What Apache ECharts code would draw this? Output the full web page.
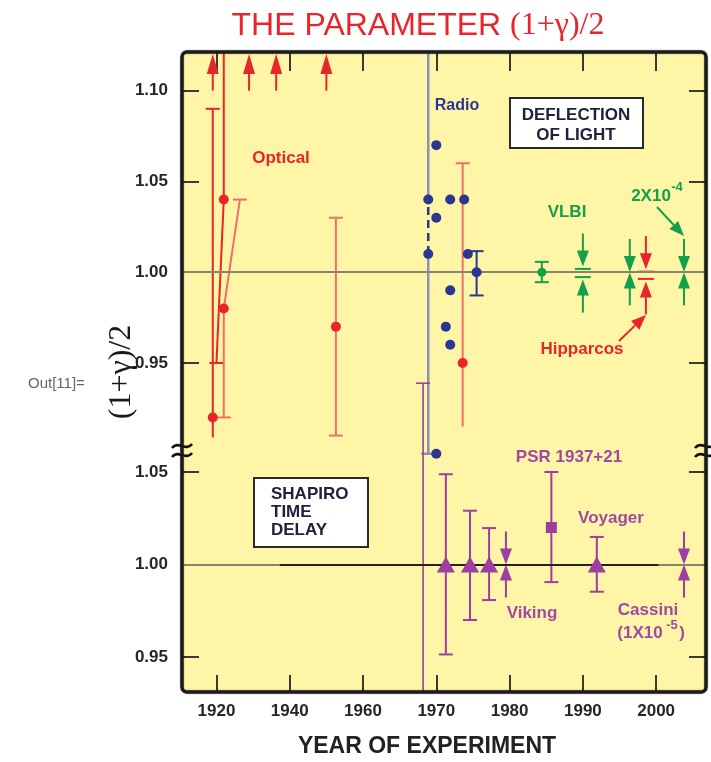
<!DOCTYPE html>
<html>
<head>
<meta charset="utf-8">
<script src="https://cdn.jsdelivr.net/npm/echarts@6/dist/echarts.min.js"></script>
<style>
  html, body { margin: 0; padding: 0; background: #ffffff; }
  #chart { width: 711px; height: 762px; }
</style>
</head>
<body>
<div id="chart"></div>
<script>
// ---------------------------------------------------------------
// Tests of the PPN parameter (1+gamma)/2 : deflection of light and
// Shapiro time delay, by year of experiment.
// ---------------------------------------------------------------

// x axis: years before 1960 are drawn at half scale
const tickYears = [1920, 1940, 1960, 1970, 1980, 1990, 2000];
const topTicks = [0.95, 1.00, 1.05, 1.10];
const bottomTicks = [0.95, 1.00, 1.05];

// Optical deflection (solar eclipses)
const opticalYear  = [1919, 1922, 1922, 1952.6, 1973.6];
const opticalValue = [0.92, 1.04, 0.98, 0.97, 0.95];
const opticalLow   = [0.909, 0.95, 0.92, 0.91, 0.915];
const opticalHigh  = [1.09, 1.20, 1.04, 1.03, 1.06];
// crowded bars are drawn slanting: year at which each end is drawn
const opticalLowYear  = [1919, 1920, 1922, 1952.6, 1973.6];
const opticalHighYear = [1919, 1922, 1926.4, 1952.6, 1973.6];
const opticalLowCap   = [0, 1, 1, 1, 0];
const opticalHighCap  = [1, 0, 1, 1, 1];
const opticalBright   = [1, 1, 0, 0, 0];
// results lying above the top of the scale
const opticalOffScale = [1919, 1928.9, 1936.3, 1950];

// Radio interferometry
const radioYear  = [1968.9, 1968.9, 1970, 1970, 1971.9, 1973.8, 1974.3, 1975.5, 1971.9, 1971.3, 1971.9, 1970];
const radioValue = [1.04, 1.01, 1.07, 1.03, 1.04, 1.04, 1.01, 1.00, 0.99, 0.97, 0.96, 0.90];
const radioBarYear = [1975.5];
const radioBarLow  = [0.9872];
const radioBarHigh = [1.0116];
// the early radio result: wide bar drawn beside the points
const radioWideYear = 1968.9;
const radioWideLow = 0.90, radioWideHigh = 1.20;
const radioDashLow = 1.01, radioDashHigh = 1.04;

// VLBI
const vlbiYear = [1984.4], vlbiValue = [1.00], vlbiLow = [0.9945], vlbiHigh = [1.0057];
const vlbiArrowYear = [1990, 1996.4, 2003.8];
const vlbiArrowLow  = [0.9973, 0.9999, 0.9999];
const vlbiArrowHigh = [1.0018, 1.0001, 1.0001];
const vlbiArrowCap  = [1, 0, 0];

// Hipparcos
const hipYear = [1998.6], hipLow = [0.9963], hipHigh = [1.0003], hipCap = [1];

// Shapiro time delay
const delayYear  = [1971.3, 1974.6, 1977.2, 1991.9];
const delayValue = [1.00, 1.00, 1.00, 1.00];
const delayLow   = [0.9514, 0.970, 0.9808, 0.9853];
const delayHigh  = [1.0488, 1.0291, 1.0197, 1.0149];
const psrYear = [1985.7], psrValue = [1.02], psrLow = [0.9905], psrHigh = [1.05];
const radarYear = [1968.2], radarValue = [1.00], radarLow = [0.90], radarHigh = [1.098];
const delayArrowYear = [1979.5, 2003.8];   // Viking, Cassini
const delayArrowLow  = [1.0, 1.0];
const delayArrowHigh = [1.0, 1.0];

// ---------------------------------------------------------------
const toAxis = y => (y < 1960 ? 1960 - (1960 - y) / 2 : y);
const fromAxis = s => (s < 1960 ? 1960 - (1960 - s) * 2 : s);

const FRAME = { left: 182, top: 52, right: 706, bottom: 692, split: 455 };
const SANS = '"Liberation Sans", Arial, sans-serif';
const SERIF = '"Liberation Serif", "Times New Roman", serif';
const C = {
  bg: '#fff5a6', red: '#e8252b', salmon: '#f07068', blue: '#2b3592', radioLine: '#8b91b6',
  green: '#14a04a', purple: '#9c3fa1', purpleText: '#a04aa6', ink: '#262626', navy: '#20223c',
  ruleTop: '#86866f'
};

const clampY = y => Math.max(FRAME.top + 1, Math.min(FRAME.bottom - 1, y));

// error bar: [x, value, low, high, xLowEnd, xHighEnd, capLow, capHigh]
function barRenderer(color, width) {
  return function (params, api) {
    const pc = api.coord([api.value(0), api.value(1)]);
    const pl = api.coord([api.value(4), api.value(2)]);
    const ph = api.coord([api.value(5), api.value(3)]);
    pl[1] = clampY(pl[1]); ph[1] = clampY(ph[1]);
    const st = { stroke: color, lineWidth: width };
    const kids = [
      { type: 'line', shape: { x1: pl[0], y1: pl[1], x2: pc[0], y2: pc[1] }, style: st },
      { type: 'line', shape: { x1: pc[0], y1: pc[1], x2: ph[0], y2: ph[1] }, style: st }
    ];
    if (api.value(6)) kids.push({ type: 'line', shape: { x1: pl[0] - 7, y1: pl[1], x2: pl[0] + 7, y2: pl[1] }, style: st });
    if (api.value(7)) kids.push({ type: 'line', shape: { x1: ph[0] - 7, y1: ph[1], x2: ph[0] + 7, y2: ph[1] }, style: st });
    return { type: 'group', children: kids };
  };
}

// pair of arrows closing on a narrow bar: [x, low, high, cap]
function arrowPairRenderer(color) {
  return function (params, api) {
    const x = api.coord([api.value(0), 1])[0];
    const yh = api.coord([api.value(0), api.value(2)])[1];
    const yl = api.coord([api.value(0), api.value(1)])[1];
    const cap = api.value(3);
    const gap = cap ? 2.5 : 0;
    const L = 33, HL = 16, HW = 6;
    const tDown = yh - gap, tUp = yl + gap;
    const st = { stroke: color, lineWidth: 2 };
    const kids = [
      { type: 'line', shape: { x1: x, y1: tDown - L, x2: x, y2: tDown - HL + 2 }, style: st },
      { type: 'polygon', shape: { points: [[x - HW, tDown - HL], [x + HW, tDown - HL], [x, tDown]] }, style: { fill: color } },
      { type: 'line', shape: { x1: x, y1: tUp + L, x2: x, y2: tUp + HL - 2 }, style: st },
      { type: 'polygon', shape: { points: [[x - HW, tUp + HL], [x + HW, tUp + HL], [x, tUp]] }, style: { fill: color } }
    ];
    if (cap) {
      kids.push({ type: 'line', shape: { x1: x - 8, y1: yh, x2: x + 8, y2: yh }, style: st });
      kids.push({ type: 'line', shape: { x1: x - 8, y1: yl, x2: x + 8, y2: yl }, style: st });
    }
    return { type: 'group', children: kids };
  };
}

// arrow pointing off the top of the scale: [x, base]
function offScaleRenderer(color) {
  return function (params, api) {
    const p = api.coord([api.value(0), api.value(1)]);
    const tip = FRAME.top + 2;
    return {
      type: 'group', children: [
        { type: 'line', shape: { x1: p[0], y1: p[1], x2: p[0], y2: tip + 18 }, style: { stroke: color, lineWidth: 2 } },
        { type: 'polygon', shape: { points: [[p[0] - 6, tip + 20], [p[0] + 6, tip + 20], [p[0], tip]] }, style: { fill: color } }
      ]
    };
  };
}

function bars(name, grid, rows, color, width, z) {
  return {
    name, type: 'custom', xAxisIndex: grid, yAxisIndex: grid * 2, clip: false, z: z || 3,
    renderItem: barRenderer(color, width || 2), data: rows, silent: true
  };
}
function arrows(name, grid, rows, color) {
  return {
    name, type: 'custom', xAxisIndex: grid, yAxisIndex: grid * 2, clip: false, z: 4,
    renderItem: arrowPairRenderer(color), data: rows, silent: true
  };
}
function points(name, grid, xs, ys, color, symbol, size) {
  return {
    name, type: 'scatter', xAxisIndex: grid, yAxisIndex: grid * 2, z: 5, silent: true,
    symbol: symbol || 'circle', symbolSize: size || 10,
    itemStyle: { color, opacity: 1 },
    data: xs.map((x, i) => [toAxis(x), ys[i]])
  };
}
const vbar = (x, v, lo, hi, capLo, capHi) => [toAxis(x), v, lo, hi, toAxis(x), toAxis(x), capLo, capHi];

// ---------------------------------------------------------------
const opticalRows = opticalYear.map((y, i) => [toAxis(y), opticalValue[i], opticalLow[i], opticalHigh[i],
  toAxis(opticalLowYear[i]), toAxis(opticalHighYear[i]), opticalLowCap[i], opticalHighCap[i]]);

const series = [
  // reference lines at (1+gamma)/2 = 1
  {
    type: 'line', xAxisIndex: 0, yAxisIndex: 0, data: [], silent: true, z: 2,
    markLine: { symbol: 'none', silent: true, label: { show: false },
      lineStyle: { color: C.ruleTop, width: 2, type: 'solid' }, data: [{ yAxis: 1 }] }
  },
  {
    type: 'line', xAxisIndex: 1, yAxisIndex: 2, data: [], silent: true, z: 2,
    markLine: { symbol: 'none', silent: true, label: { show: false },
      lineStyle: { color: '#222', width: 2, type: 'solid' },
      data: [
        { yAxis: 1, lineStyle: { color: C.ruleTop } },
        [{ coord: [toAxis(1937.3), 1] }, { coord: [2000.3, 1] }]
      ] }
  },

  // optical
  bars('optical-bright', 0, opticalRows.filter((r, i) => opticalBright[i]), C.red, 2),
  bars('optical-light', 0, opticalRows.filter((r, i) => !opticalBright[i]), C.salmon, 2),
  {
    type: 'custom', xAxisIndex: 0, yAxisIndex: 0, clip: false, z: 4, silent: true,
    renderItem: offScaleRenderer(C.red), data: opticalOffScale.map(y => [toAxis(y), 1.10])
  },
  points('optical', 0, opticalYear, opticalValue, C.red, 'circle', 10),

  // radio
  bars('radio-wide', 0, [
    vbar(radioWideYear, radioDashLow, radioWideLow, radioDashLow, 1, 0),
    vbar(radioWideYear, radioDashHigh, radioDashHigh, radioWideHigh, 0, 0)
  ], C.radioLine, 2.5, 2),
  {
    type: 'line', xAxisIndex: 0, yAxisIndex: 0, silent: true, z: 3, symbol: 'none',
    lineStyle: { color: C.blue, width: 2.5, type: [8, 5] },
    data: [[toAxis(radioWideYear), radioDashLow], [toAxis(radioWideYear), radioDashHigh]]
  },
  bars('radio-bar', 0, radioBarYear.map((y, i) => vbar(y, (radioBarLow[i] + radioBarHigh[i]) / 2, radioBarLow[i], radioBarHigh[i], 1, 1)), C.blue, 2),
  points('radio', 0, radioYear, radioValue, C.blue, 'circle', 10),

  // VLBI and Hipparcos
  bars('vlbi-bar', 0, vlbiYear.map((y, i) => vbar(y, vlbiValue[i], vlbiLow[i], vlbiHigh[i], 1, 1)), C.green, 2),
  points('vlbi', 0, vlbiYear, vlbiValue, C.green, 'circle', 9),
  arrows('vlbi-arrows', 0, vlbiArrowYear.map((y, i) => [toAxis(y), vlbiArrowLow[i], vlbiArrowHigh[i], vlbiArrowCap[i]]), C.green),
  arrows('hipparcos', 0, hipYear.map((y, i) => [toAxis(y), hipLow[i], hipHigh[i], hipCap[i]]), C.red),

  // Shapiro delay
  bars('radar', 1, radarYear.map((y, i) => vbar(y, radarValue[i], radarLow[i], radarHigh[i], 0, 1)), C.purple, 1.6),
  bars('delay-bars', 1, delayYear.map((y, i) => vbar(y, delayValue[i], delayLow[i], delayHigh[i], 1, 1)), C.purple, 2),
  bars('psr-bar', 1, psrYear.map((y, i) => vbar(y, psrValue[i], psrLow[i], psrHigh[i], 1, 1)), C.purple, 2),
  points('delay', 1, delayYear, delayValue, C.purple, 'triangle', [18, 16]),
  points('psr', 1, psrYear, psrValue, C.purple, 'rect', 11),
  arrows('delay-arrows', 1, delayArrowYear.map((y, i) => [toAxis(y), delayArrowLow[i], delayArrowHigh[i], 0]), C.purple)
];

// ---------------------------------------------------------------
const xCommon = {
  type: 'value', min: 1935.3, max: 2006.8,
  axisLine: { show: false }, splitLine: { show: false }
};
const yCommon = { type: 'value', axisLine: { show: false }, splitLine: { show: false } };
const tickStyle = { color: '#3a3a34', width: 2 };
const labelStyle = { color: C.ink, fontFamily: SANS, fontWeight: 'bold', fontSize: 17 };

function text(t, x, y, color, size, extra) {
  return Object.assign({
    type: 'text', z: 50, silent: true,
    style: { text: t, x, y, fill: color, font: 'bold ' + size + 'px ' + SANS, align: 'center', verticalAlign: 'middle' }
  }, extra || {});
}
function pointer(x1, y1, x2, y2, color) {
  const a = Math.atan2(y2 - y1, x2 - x1), hl = 15, hw = 6;
  const bx = x2 - hl * Math.cos(a), by = y2 - hl * Math.sin(a);
  const nx = -Math.sin(a) * hw, ny = Math.cos(a) * hw;
  return {
    type: 'group', z: 50, silent: true, children: [
      { type: 'line', shape: { x1, y1, x2: bx, y2: by }, style: { stroke: color, lineWidth: 2 } },
      { type: 'polygon', shape: { points: [[x2, y2], [bx + nx, by + ny], [bx - nx, by - ny]] }, style: { fill: color } }
    ]
  };
}
function breakMark(xc, yc, side) {
  const cover = side === 'left'
    ? [{ x: xc - 12, w: 12, fill: '#ffffff' }, { x: xc, w: 10, fill: C.bg }]
    : [{ x: xc - 12, w: 12, fill: C.bg }, { x: xc, w: 10, fill: '#ffffff' }];
  const kids = cover.map(c => ({ type: 'rect', shape: { x: c.x, y: yc - 11, width: c.w, height: 22 }, style: { fill: c.fill } }));
  [yc - 5, yc + 4].forEach(y => kids.push({
    type: 'bezierCurve',
    shape: { x1: xc - 10, y1: y + 2, cpx1: xc - 4, cpy1: y - 6, cpx2: xc + 4, cpy2: y + 6, x2: xc + 10, y2: y - 2 },
    style: { stroke: '#111', lineWidth: 2.6, fill: null }
  }));
  return { type: 'group', z: 120, silent: true, children: kids };
}

const graphic = [
  // frame
  { type: 'rect', z: 100, silent: true,
    shape: { x: FRAME.left, y: FRAME.top, width: FRAME.right - FRAME.left, height: FRAME.bottom - FRAME.top, r: 5 },
    style: { fill: null, stroke: '#1a1a1a', lineWidth: 3.5, shadowBlur: 2, shadowColor: 'rgba(0,0,0,0.35)' } },
  breakMark(FRAME.left, 451, 'left'),
  breakMark(FRAME.right - 1, 451, 'right'),

  // title
  { type: 'text', z: 50, silent: true,
    style: { text: '{a|THE PARAMETER }{b|(1+γ)/2}', x: 418, y: 26, align: 'center', verticalAlign: 'middle',
      rich: { a: { font: '32px ' + SANS, fill: C.red }, b: { font: '32px ' + SERIF, fill: C.red } } } },
  // axis names
  { type: 'text', z: 50, silent: true, rotation: Math.PI / 2, x: 122, y: 372,
    style: { text: '(1+γ)/2', x: 0, y: 0, align: 'center', verticalAlign: 'middle', font: '32px ' + SERIF, fill: '#1a1a1a' } },
  text('YEAR OF EXPERIMENT', 427, 747, '#222', 23),
  { type: 'text', z: 50, silent: true,
    style: { text: 'Out[11]=', x: 28, y: 384, align: 'left', verticalAlign: 'middle', font: '15px ' + SANS, fill: '#666' } },

  // series labels
  text('Optical', 281, 158, C.red, 17),
  text('Radio', 457, 106, C.blue, 16),
  text('VLBI', 567, 212, C.green, 17),
  text('2X10', 651, 196, C.green, 17),
  text('-4', 677, 187, C.green, 13),
  pointer(657, 207, 684, 236, C.green),
  text('Hipparcos', 582, 349, C.red, 17),
  pointer(619, 341, 646, 315, C.red),
  text('PSR 1937+21', 569, 457, C.purpleText, 17),
  text('Voyager', 611, 518, C.purpleText, 17),
  text('Viking', 532, 613, C.purpleText, 17),
  text('Cassini', 648, 610, C.purpleText, 17),
  text('(1X10', 640, 633, C.purpleText, 17),
  text('-5', 672, 625, C.purpleText, 13),
  text(')', 682, 633, C.purpleText, 17),

  // boxes
  { type: 'rect', z: 40, silent: true, shape: { x: 510, y: 98, width: 133, height: 50 },
    style: { fill: '#ffffff', stroke: '#2a2a2a', lineWidth: 2 } },
  text('DEFLECTION', 576, 115, C.navy, 17),
  text('OF LIGHT', 576, 135, C.navy, 17),
  { type: 'rect', z: 40, silent: true, shape: { x: 254, y: 478, width: 114, height: 69 },
    style: { fill: '#ffffff', stroke: '#2a2a2a', lineWidth: 2 } },
  text('SHAPIRO', 271, 494, C.navy, 17, {}),
  text('TIME', 271, 512, C.navy, 17),
  text('DELAY', 271, 530, C.navy, 17)
];
// box text in the Shapiro box is left aligned
graphic.slice(-3).forEach(g => { g.style.align = 'left'; });

const option = {
  backgroundColor: '#ffffff',
  animation: false,
  grid: [
    { left: FRAME.left, top: FRAME.top, width: FRAME.right - FRAME.left, height: FRAME.split - FRAME.top,
      show: true, backgroundColor: C.bg, borderWidth: 0 },
    { left: FRAME.left, top: FRAME.split, width: FRAME.right - FRAME.left, height: FRAME.bottom - FRAME.split,
      show: true, backgroundColor: C.bg, borderWidth: 0 }
  ],
  xAxis: [
    Object.assign({}, xCommon, { gridIndex: 0, position: 'top',
      axisTick: { show: true, inside: true, length: 19, customValues: tickYears.map(toAxis), lineStyle: tickStyle },
      axisLabel: { show: false } }),
    Object.assign({}, xCommon, { gridIndex: 1, position: 'bottom',
      axisTick: { show: true, inside: true, length: 17, customValues: tickYears.map(toAxis), lineStyle: tickStyle },
      axisLabel: Object.assign({ show: true, margin: 11, customValues: tickYears.map(toAxis),
        formatter: v => String(Math.round(fromAxis(v))) }, labelStyle) })
  ],
  yAxis: [
    Object.assign({}, yCommon, { gridIndex: 0, position: 'left', min: 0.8993, max: 1.1213,
      axisTick: { show: true, inside: true, length: 17, customValues: [0.95, 1.05, 1.10], lineStyle: tickStyle },
      axisLabel: Object.assign({ margin: 14, customValues: topTicks, formatter: v => v.toFixed(2) }, labelStyle) }),
    Object.assign({}, yCommon, { gridIndex: 0, position: 'right', min: 0.8993, max: 1.1213,
      axisTick: { show: true, inside: true, length: 17, customValues: [0.95, 1.05, 1.10], lineStyle: tickStyle },
      axisLabel: { show: false } }),
    Object.assign({}, yCommon, { gridIndex: 1, position: 'left', min: 0.9311, max: 1.0592,
      axisTick: { show: true, inside: true, length: 17, customValues: [0.95, 1.05], lineStyle: tickStyle },
      axisLabel: Object.assign({ margin: 14, customValues: bottomTicks, formatter: v => v.toFixed(2) }, labelStyle) }),
    Object.assign({}, yCommon, { gridIndex: 1, position: 'right', min: 0.9311, max: 1.0592,
      axisTick: { show: true, inside: true, length: 17, customValues: [0.95, 1.05], lineStyle: tickStyle },
      axisLabel: { show: false } })
  ],
  series,
  graphic
};

// series on the lower grid use the lower-left y axis (index 2)
option.series.forEach(s => { if (s.xAxisIndex === 1) s.yAxisIndex = 2; });

const chart = echarts.init(document.getElementById('chart'));
chart.setOption(option);
</script>
</body>
</html>
